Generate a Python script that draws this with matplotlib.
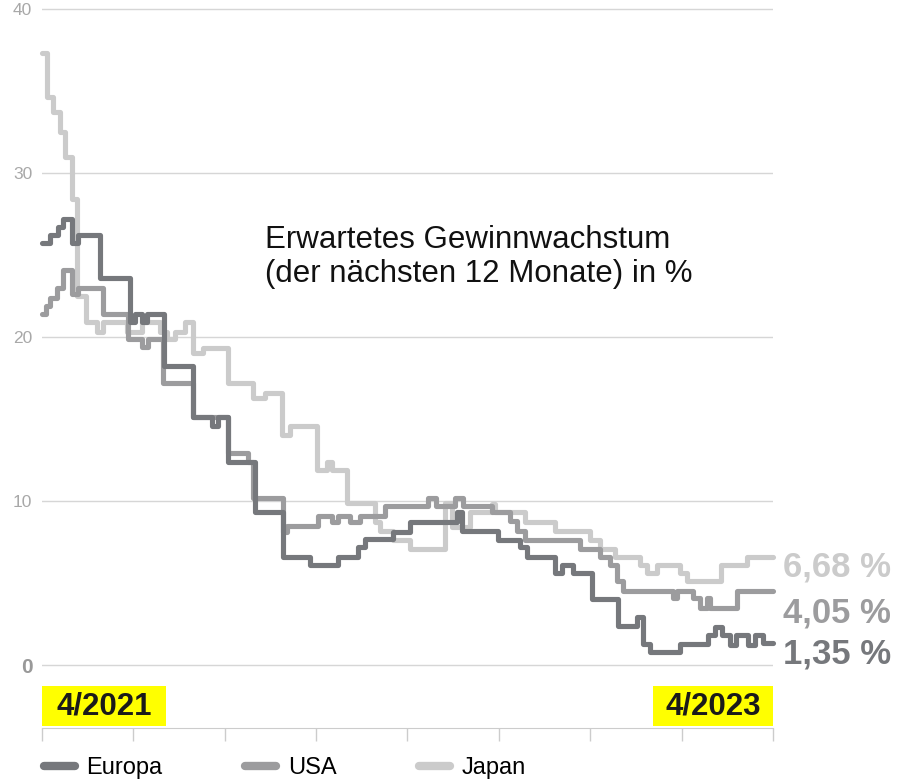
"""Expected earnings growth (next 12 months) Europe / USA / Japan, 4/2021 - 4/2023."""
import matplotlib; matplotlib.use("Agg")
import matplotlib.pyplot as plt
from matplotlib.lines import Line2D
from matplotlib.patches import Rectangle

plt.rcParams['font.family'] = ['Liberation Sans', 'DejaVu Sans']

# months since 4/2021 where a new value starts, and the value (%)
eu_m = [0, 0.26, 0.52, 0.69, 0.98, 1.18, 1.90, 2.89, 3.05, 3.28, 3.45, 4.01, 4.96, 5.58, 5.78,
        6.11, 6.99, 7.91, 8.80, 9.72, 10.37, 10.60, 11.52, 12.08, 13.63, 13.79, 14.97, 15.69,
        15.92, 16.84, 17.07, 17.43, 18.06, 18.91, 19.54, 19.73, 19.96, 20.95, 21.87, 22.10,
        22.33, 22.59, 22.79, 23.18, 23.41, 23.67, 24]
eu_v = [25.7, 26.2, 26.7, 27.2, 25.7, 26.2, 23.6, 20.9, 21.4, 20.9, 21.4, 18.2, 15.1, 14.6, 15.1,
        12.4, 9.3, 6.6, 6.1, 6.6, 7.2, 7.7, 8.1, 8.7, 9.3, 8.2, 7.6, 7.2,
        6.6, 5.6, 6.1, 5.6, 4.0, 2.4, 2.9, 1.3, 0.8, 1.3, 1.8, 2.3,
        1.8, 1.2, 1.8, 1.2, 1.8, 1.35, 1.35]

us_m = [0, 0.13, 0.26, 0.49, 0.69, 0.98, 1.18, 2.00, 2.82, 3.28, 3.48, 3.97, 4.96, 6.11, 6.76,
        6.93, 7.91, 8.04, 9.06, 9.52, 9.72, 10.11, 10.44, 11.26, 12.67, 12.94, 13.56, 13.82,
        14.77, 15.37, 15.60, 15.86, 17.66, 18.32, 18.65, 18.88, 19.08, 20.72, 20.85, 21.37,
        21.60, 21.83, 21.93, 22.82, 24]
us_v = [21.4, 21.9, 22.4, 23.0, 24.1, 22.6, 23.0, 21.4, 19.9, 19.4, 19.9, 17.2, 15.1, 12.9, 12.4,
        10.2, 8.1, 8.5, 9.1, 8.7, 9.1, 8.7, 9.1, 9.7, 10.2, 9.7, 10.2, 9.7,
        9.3, 8.8, 8.2, 7.6, 7.1, 6.6, 6.1, 5.1, 4.5, 4.1, 4.5, 4.1,
        3.5, 4.1, 3.5, 4.5, 4.5]

jp_m = [0, 0.16, 0.36, 0.59, 0.76, 0.98, 1.15, 1.45, 1.81, 2.00, 2.79, 3.28, 3.87, 4.10, 4.37,
        4.70, 4.96, 5.29, 6.11, 6.93, 7.32, 7.88, 8.14, 9.03, 9.36, 9.52, 10.01, 10.93, 11.10,
        11.52, 12.08, 13.23, 13.46, 14.05, 14.77, 14.87, 15.86, 16.84, 17.99, 18.32, 18.81,
        19.63, 19.86, 20.19, 20.95, 21.18, 22.30, 23.15, 24]
jp_v = [37.3, 34.6, 33.7, 32.5, 31.0, 28.4, 22.5, 20.9, 20.3, 20.9, 20.3, 20.9, 20.3, 19.9, 20.3,
        20.9, 19.0, 19.3, 17.2, 16.3, 16.6, 14.0, 14.6, 11.9, 12.4, 11.9, 9.9, 8.7, 8.2,
        7.6, 7.1, 9.9, 8.4, 9.3, 9.8, 9.3, 8.7, 8.2, 7.6, 7.1, 6.6,
        6.1, 5.6, 6.1, 5.6, 5.1, 6.1, 6.6, 6.6]

names = ["Europa", "USA", "Japan"]
colors = ["#76787c", "#9c9c9e", "#cbcbcb"]
end_labels = ["1,35 %", "4,05 %", "6,68 %"]
end_label_y = [0.12, 2.62, 5.37]
yticks = [0, 10, 20, 30, 40]
xticks = list(range(0, 25, 3))
start_label, end_label = "4/2021", "4/2023"

fig = plt.figure(figsize=(9.03, 7.79), dpi=100)
ax = fig.add_axes([42/903, 51/779, 731/903, 724/779])
ax.set_xlim(0, 24)
ax.set_ylim(-3.84, 40.3)

series = [(eu_m, eu_v), (us_m, us_v), (jp_m, jp_v)]
for i, (m, v) in enumerate(series):
    ax.step(m, v, where="post", color=colors[i], lw=3.7, zorder=4 - i,
            solid_joinstyle="round", solid_capstyle="round", clip_on=False)

# grid + axes styling
ax.set_yticks(yticks)
ax.set_yticklabels([str(t) for t in yticks])
ax.grid(axis="y", color="#d6d6d6", lw=1)
ax.set_axisbelow(True)
ax.tick_params(axis="y", length=0, pad=7, labelsize=12.5, labelcolor="#a8a8a8")
lab0 = ax.get_yticklabels()[0]
lab0.set_fontweight("bold"); lab0.set_fontsize(15); lab0.set_color("#999999")
ax.set_xticks(xticks)
ax.set_xticklabels([])
ax.tick_params(axis="x", length=9, width=1, color="#cccccc", direction="out")
for s in ["top", "right", "left"]:
    ax.spines[s].set_visible(False)
ax.spines["bottom"].set_color("#cccccc")

# yellow date boxes
for x0, x1, txt in [(0, 4.07, start_label), (20.06, 24, end_label)]:
    ax.add_patch(Rectangle((x0, -3.72), x1 - x0, 2.44, facecolor="#ffff00",
                           edgecolor="none", clip_on=False, zorder=1))
    ax.text((x0 + x1) / 2, -2.5, txt, ha="center", va="center", fontsize=22.5,
            fontweight="bold", color="#1a1a1a", zorder=2)

# title inside the plot
ax.text(7.32, 26.85, "Erwartetes Gewinnwachstum\n(der nächsten 12 Monate) in %",
        fontsize=22.5, color="#111111", ha="left", va="top", linespacing=1.17)

# end value labels
for i in range(3):
    ax.text(24.33, end_label_y[i], end_labels[i], color=colors[i], fontsize=25,
            fontweight="bold", ha="left", va="baseline", clip_on=False)

handles = [Line2D([], [], color=c, lw=6, solid_capstyle="round") for c in colors]
fig.legend(handles, names, loc="center left", bbox_to_anchor=(44/903, 1 - 768/779),
           ncol=3, frameon=False, fontsize=17, handlelength=1.3, handletextpad=0.5,
           columnspacing=3.5, borderpad=0, borderaxespad=0)

fig.savefig("out.png", dpi=100)
